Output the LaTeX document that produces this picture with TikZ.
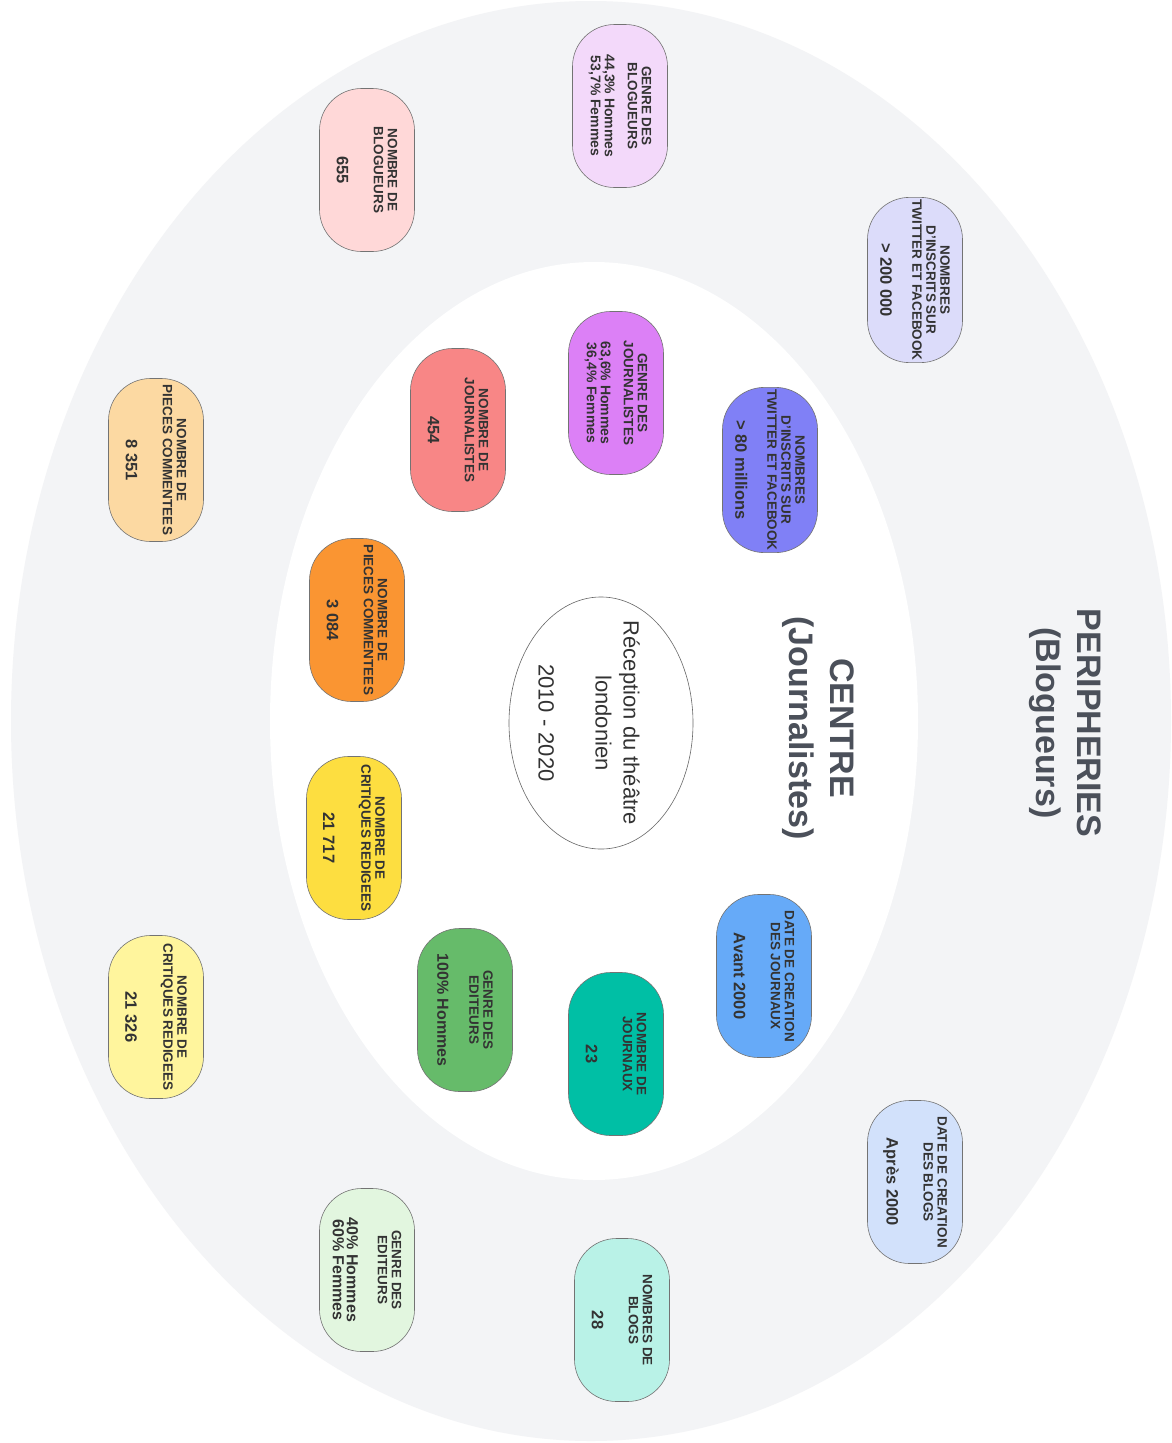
\documentclass[tikz,border=0pt]{standalone}
\usepackage{fontspec}
\setmainfont{Liberation Sans}
\usepackage{tikz}
\usetikzlibrary{shapes.geometric}

\definecolor{ringgray}{HTML}{F3F4F6}
\definecolor{labelgray}{HTML}{4B505A}
\definecolor{textgray}{HTML}{333333}
% outer ring colours
\definecolor{lilaclight}{HTML}{F3D9FA}
\definecolor{pinklight}{HTML}{FFD8D8}
\definecolor{bluevlight}{HTML}{DCDCFA}
\definecolor{orangelight}{HTML}{FCD9A2}
\definecolor{yellowlight}{HTML}{FFF59D}
\definecolor{skylight}{HTML}{D2E1FB}
\definecolor{teallight}{HTML}{B9F2E7}
\definecolor{greenlight}{HTML}{E2F6DF}
% inner ring colours
\definecolor{lilac}{HTML}{DC80F6}
\definecolor{salmon}{HTML}{F88686}
\definecolor{bluev}{HTML}{8080F6}
\definecolor{orangedark}{HTML}{FA9532}
\definecolor{yellowdark}{HTML}{FDDE40}
\definecolor{sky}{HTML}{66AAF8}
\definecolor{greendark}{HTML}{66BB6A}
\definecolor{tealdark}{HTML}{00BFA5}

\newcommand{\valbig}[1]{{\fontsize{16.5}{19}\selectfont #1}}
\newcommand{\valmid}[1]{{\fontsize{16}{17}\selectfont #1}}
\newcommand{\valsmall}[1]{{\fontsize{14}{15}\selectfont #1}}

\begin{document}
\begin{tikzpicture}[x=1pt, y=-1pt,
	bubble/.style={rectangle, rounded corners=42pt, draw=black!55, line width=0.6pt,
		minimum width=163pt, minimum height=95pt, inner sep=2pt, rotate=-90,
		align=center, text=textgray, font=\fontsize{13.5}{14}\selectfont\bfseries},
	zonelabel/.style={rotate=-90, align=center, text=labelgray,
		font=\fontsize{34}{41}\selectfont\bfseries}]

	% frame
	\useasboundingbox (0,0) rectangle (1171,1443);
	\fill[white] (0,0) rectangle (1171,1443);

	% rings
	\fill[ringgray] (591,721) ellipse [x radius=580pt, y radius=720pt];
	\fill[white] (594,721) ellipse [x radius=324pt, y radius=459pt];

	% zone labels
	\node[zonelabel] (peri) at (1065,723) {PERIPHERIES\\(Blogueurs)};
	\node[zonelabel] (centre) at (818,728) {CENTRE\\(Journalistes)};

	% theme
	\node[ellipse, draw=black!60, line width=0.6pt, fill=white, minimum width=250pt,
		minimum height=184pt, inner xsep=-13pt, inner ysep=0pt, rotate=-90,
		align=center, text=textgray, font=\fontsize{22}{28}\selectfont] (theme) at (601,723)
		{\rule{0pt}{40pt}Réception du théâtre\\londonien\\[29pt]2010 - 2020};

	% peripheries (blogueurs)
	\node[bubble, fill=lilaclight] (genreblog) at (620,106)
		{GENRE DES\\BLOGUEURS\\[9pt]\valsmall{44,3\% Hommes}\\\valsmall{53,7\% Femmes}};
	\node[bubble, fill=pinklight] (nbblogueurs) at (367,170)
		{NOMBRE DE\\BLOGUEURS\\[23pt]\valbig{655}};
	\node[bubble, fill=bluevlight] (inscritsblog) at (915,280)
		{NOMBRES\\D'INSCRITS SUR\\TWITTER ET FACEBOOK\\[18pt]\valbig{> 200 000}};
	\node[bubble, fill=orangelight] (piecesblog) at (156,460)
		{NOMBRE DE\\PIECES COMMENTEES\\[23pt]\valbig{8 351}};
	\node[bubble, fill=yellowlight] (critiquesblog) at (156,1017)
		{NOMBRE DE\\CRITIQUES REDIGEES\\[23pt]\valbig{21 326}};
	\node[bubble, fill=skylight] (dateblog) at (915,1182)
		{DATE DE CREATION\\DES BLOGS\\[23pt]\valbig{Après 2000}};
	\node[bubble, fill=teallight] (nbblogs) at (622,1320)
		{NOMBRES DE\\BLOGS\\[23pt]\valbig{28}};
	\node[bubble, fill=greenlight] (editeursblog) at (367,1270)
		{GENRE DES\\EDITEURS\\[17pt]\valmid{40\% Hommes}\\\valmid{60\% Femmes}};

	% centre (journalistes)
	\node[bubble, fill=lilac] (genrejourn) at (616,393)
		{GENRE DES\\JOURNALISTES\\[9pt]\valsmall{63,6\% Hommes}\\\valsmall{36,4\% Femmes}};
	\node[bubble, fill=salmon] (nbjourn) at (458,430)
		{NOMBRE DE\\JOURNALISTES\\[23pt]\valbig{454}};
	\node[bubble, fill=bluev] (inscritsjourn) at (770,470)
		{NOMBRES\\D'INSCRITS SUR\\TWITTER ET FACEBOOK\\[18pt]\valbig{> 80 millions}};
	\node[bubble, fill=orangedark] (piecesjourn) at (357,620)
		{NOMBRE DE\\PIECES COMMENTEES\\[23pt]\valbig{3 084}};
	\node[bubble, fill=yellowdark] (critiquesjourn) at (354,838)
		{NOMBRE DE\\CRITIQUES REDIGEES\\[23pt]\valbig{21 717}};
	\node[bubble, fill=sky] (datejourn) at (764,976)
		{DATE DE CREATION\\DES JOURNAUX\\[23pt]\valbig{Avant 2000}};
	\node[bubble, fill=greendark] (editeursjourn) at (465,1010)
		{GENRE DES\\EDITEURS\\[18pt]\valmid{100\% Hommes}};
	\node[bubble, fill=tealdark] (nbjournaux) at (616,1054)
		{NOMBRE DE\\JOURNAUX\\[23pt]\valbig{23}};

\end{tikzpicture}
\end{document}
